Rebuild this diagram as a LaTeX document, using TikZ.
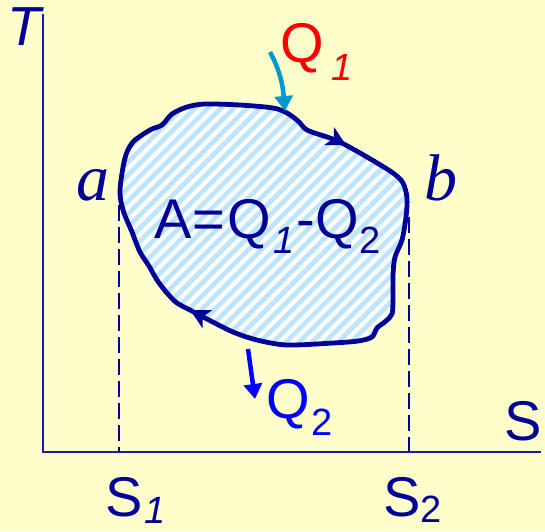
\documentclass[tikz,border=0pt]{standalone}
\usepackage{fontspec}
\setmainfont{Liberation Serif}
\setsansfont{Liberation Sans}
\usepackage{xcolor}
\usepackage{tikz}
\usetikzlibrary{arrows.meta, decorations.markings}

\definecolor{paper}{HTML}{FFFFCC}
\definecolor{navy}{HTML}{000099}
\definecolor{axisblue}{HTML}{1A1AA6}
\definecolor{hatch}{HTML}{BDE5FF}
\definecolor{heat}{HTML}{0099CC}

\newcommand{\bigtxt}[1]{\fontsize{56}{56}\selectfont #1}
\newcommand{\dn}[2][15pt]{\raisebox{-#1}{\fontsize{38}{38}\selectfont #2}}
\def\blob{plot[smooth cycle, tension=0.5] coordinates {
  (120,190) (125,158) (133,142) (150,130) (162,125) (172,114) (187,107)
  (205,104) (240,105) (273,108) (287,113) (298,121) (307,130) (327,137)
  (340,142) (367,157) (393,173) (403,183) (407,198) (406,217) (402,240)
  (395,257) (393,275) (393,300) (392,314) (386,321) (377,328) (372,337)
  (358,341) (333,343) (287,345) (257,340) (233,332) (207,319) (190,310)
  (177,303) (167,293) (157,280) (149,266) (140,252) (132,232) (123,210)}}

\begin{document}
\begin{tikzpicture}[
  x=1pt, y=-1pt,
  every node/.style={inner sep=0pt, outer sep=0pt},
  axis/.style={draw=axisblue, line width=1.6pt},
  guide/.style={draw=navy, line width=1.6pt, dash pattern=on 16pt off 6pt},
  stripe/.style={draw=hatch, line width=4.6pt},
  cyc/.style={draw=navy, line width=4.8pt, line join=round,
    postaction={decorate, decoration={markings,
      mark=at position 0.297 with {\arrow{Stealth[length=19pt,width=20pt,inset=5pt]}},
      mark=at position 0.793 with {\arrow{Stealth[length=19pt,width=20pt,inset=5pt]}}}}},
  heatin/.style={draw=heat, line width=4.5pt,
    -{Triangle[length=15pt,width=18pt]}},
  heatout/.style={draw=blue, line width=4.5pt,
    -{Triangle[length=15pt,width=18pt]}},
  lbl/.style={anchor=base west, text=navy, font=\sffamily}
]
\fill[paper] (0,0) rectangle (545,531);
\useasboundingbox (0,0) rectangle (545,531);

\coordinate (O) at (43,452);
\coordinate (Ttop) at (43,14);
\coordinate (Send) at (541,452);
\coordinate (s1top) at (119,205);
\coordinate (s1bot) at (119,452);
\coordinate (s2top) at (409,217);
\coordinate (s2bot) at (409,452);
\coordinate (q1from) at (270,52);
\coordinate (q1to) at (285,111);
\coordinate (q2from) at (248,349);
\coordinate (q2to) at (255,399);

\begin{scope}
  \clip \blob;
  \fill[white] (100,90) rectangle (420,360);
  \foreach \k in {-220,-207,...,430}
    \draw[stripe] (\k,380) -- ++(300,-300);
\end{scope}

\draw[axis] (Ttop) -- (O) -- (Send);
\draw[guide] (s1top) -- (s1bot);
\draw[guide] (s2top) -- (s2bot);
\draw[cyc] \blob;

\draw[heatin] (q1from) to[out=-62, in=95] (q1to);
\draw[heatout] (q2from) -- (q2to);

\node[lbl] (T) at (8,45) {\fontsize{55}{55}\selectfont\itshape T};
\node[lbl] (S) at (504,440) {\bigtxt{S}};
\node[lbl] (S1) at (105,516) {\bigtxt{S}\kern2pt\dn[7pt]{\itshape 1}};
\node[lbl] (S2) at (383,516) {\bigtxt{S}\dn[6pt]{2}};
\node[lbl] (a) at (76,200) {\fontsize{66}{66}\selectfont\rmfamily\itshape a};
\node[lbl] (b) at (424,200) {\fontsize{66}{66}\selectfont\rmfamily\itshape b};
\node[lbl] (A) at (154,238)
  {\bigtxt{A\kern1pt=\kern2pt Q}\kern3pt\dn{\itshape 1}\kern2pt\bigtxt{-Q}\kern1pt\dn{2}};
\node[lbl, text=red] (Q1) at (280,62) {\bigtxt{Q}\kern8pt\dn[18pt]{\itshape 1}};
\node[lbl, text=blue] (Q2) at (266,418) {\bigtxt{Q}\kern2pt\dn[17pt]{2}};
\end{tikzpicture}
\end{document}
